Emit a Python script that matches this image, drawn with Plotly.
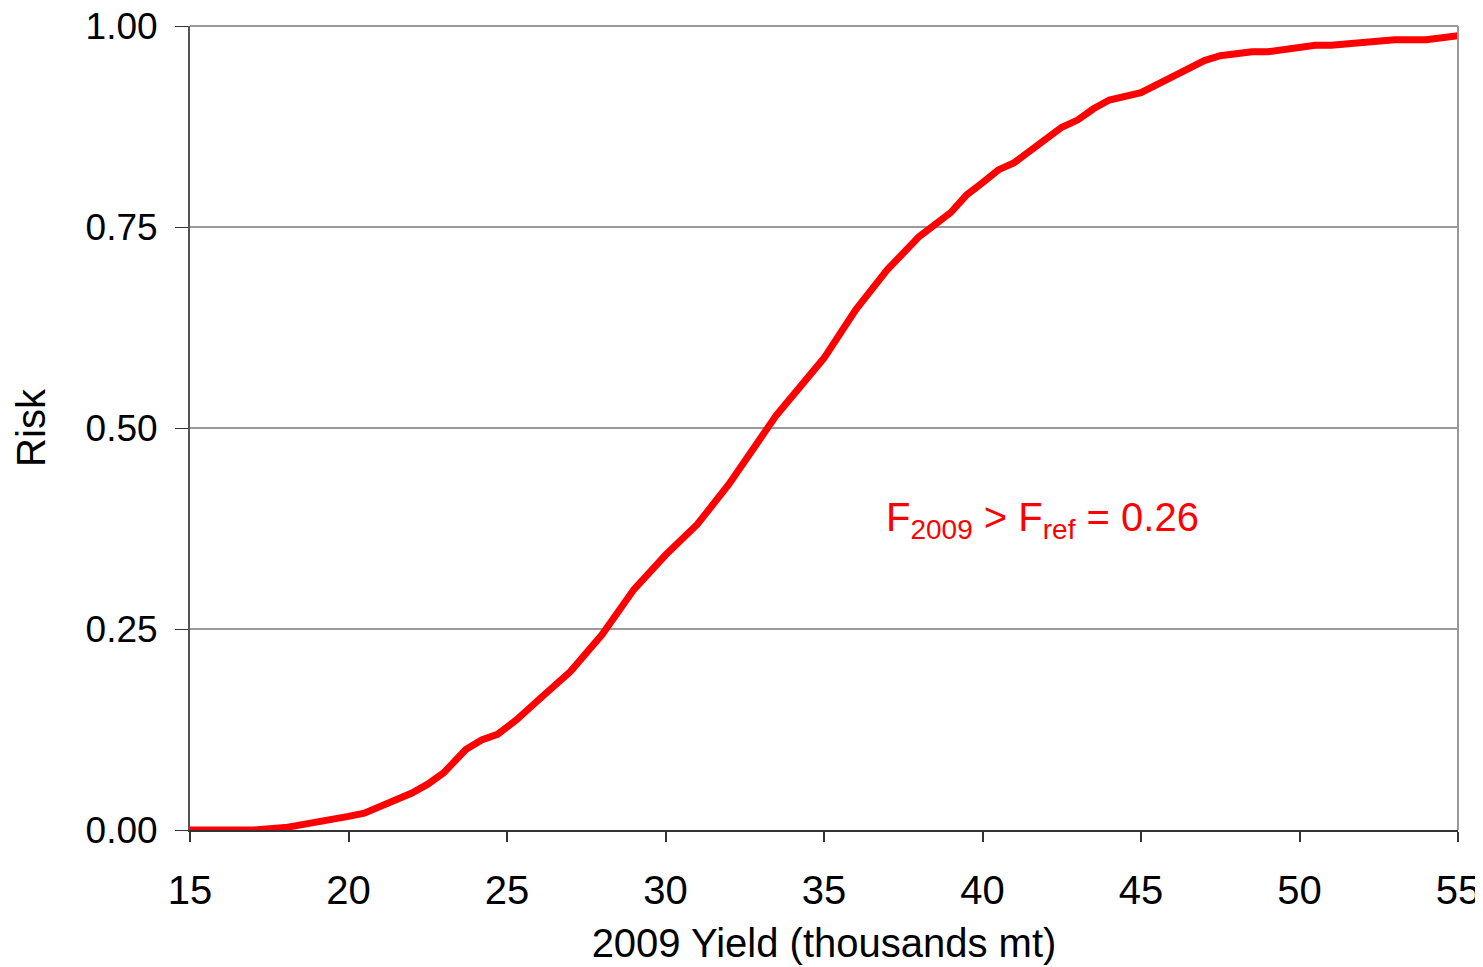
import plotly.graph_objects as go

yield_k = [15, 17, 18, 19, 20, 20.5, 21, 22, 22.5, 23, 23.7, 24.2, 24.7, 25.3, 26, 27, 28, 29, 30,
           31, 32, 33, 33.5, 35, 35.5, 36, 37, 38, 39, 39.5, 40, 40.5, 41, 42, 42.5, 43, 43.5,
           44, 44.5, 45, 46, 47, 47.5, 48.5, 49, 50.5, 51, 53, 54, 55]
risk = [0.0, 0.0, 0.003, 0.009, 0.017, 0.021, 0.029, 0.046, 0.057, 0.071, 0.100, 0.112, 0.119,
        0.137, 0.162, 0.197, 0.243, 0.299, 0.342, 0.380, 0.430, 0.488, 0.516, 0.587, 0.618,
        0.647, 0.697, 0.738, 0.768, 0.790, 0.805, 0.821, 0.830, 0.859, 0.874, 0.883, 0.897,
        0.908, 0.913, 0.917, 0.937, 0.957, 0.963, 0.968, 0.968, 0.976, 0.976, 0.983, 0.983, 0.988]

x_ticks = [15, 20, 25, 30, 35, 40, 45, 50, 55]
y_ticks = [0.0, 0.25, 0.5, 0.75, 1.0]
y_tick_labels = ["0.00", "0.25", "0.50", "0.75", "1.00"]

FONT = "Liberation Sans, Arial, sans-serif"

fig = go.Figure()
fig.add_trace(go.Scatter(x=yield_k, y=risk, mode="lines",
                         line=dict(color="#ff0000", width=7), showlegend=False))

fig.add_annotation(x=41.9, y=0.385, xref="x", yref="y",
                   text="F<sub>2009</sub> > F<sub>ref</sub> = 0.26",
                   showarrow=False, font=dict(family=FONT, size=40, color="#ff0000"))

# page body has an 8px margin, so the figure is sized/offset to compensate
fig.update_layout(
    width=1475, height=959,
    margin=dict(l=182, r=25, t=18, b=137),
    plot_bgcolor="white", paper_bgcolor="white",
    font=dict(family=FONT, color="black"),
)
fig.update_xaxes(
    range=[15, 55], tickvals=x_ticks, ticktext=[str(v) for v in x_ticks],
    showgrid=False, showline=True, linecolor="#333333", linewidth=2,
    ticks="outside", ticklen=10, tickcolor="#333333", tickwidth=2,
    tickfont=dict(size=40), mirror=False, zeroline=False, automargin=False,
    ticklabelstandoff=14, ticklabeloverflow="allow",
    title=dict(text="2009 Yield (thousands mt)", font=dict(size=40), standoff=18),
)
fig.update_yaxes(
    range=[0, 1.0], tickvals=y_ticks, ticktext=y_tick_labels,
    showgrid=True, gridcolor="#999999", gridwidth=2,
    showline=True, linecolor="#555555", linewidth=2,
    ticks="outside", ticklen=13, tickcolor="#333333", tickwidth=1,
    tickfont=dict(size=37), zeroline=False, automargin=False,
    ticklabelstandoff=10, ticklabeloverflow="allow",
    title=dict(text="Risk", font=dict(size=40), standoff=28),
)
# right and top borders
fig.add_shape(type="line", xref="paper", yref="paper", x0=1, x1=1, y0=0, y1=1,
              line=dict(color="#999999", width=2))
fig.add_shape(type="line", xref="paper", yref="paper", x0=0, x1=1, y0=1, y1=1,
              line=dict(color="#999999", width=2))

fig.write_html("out.html")
